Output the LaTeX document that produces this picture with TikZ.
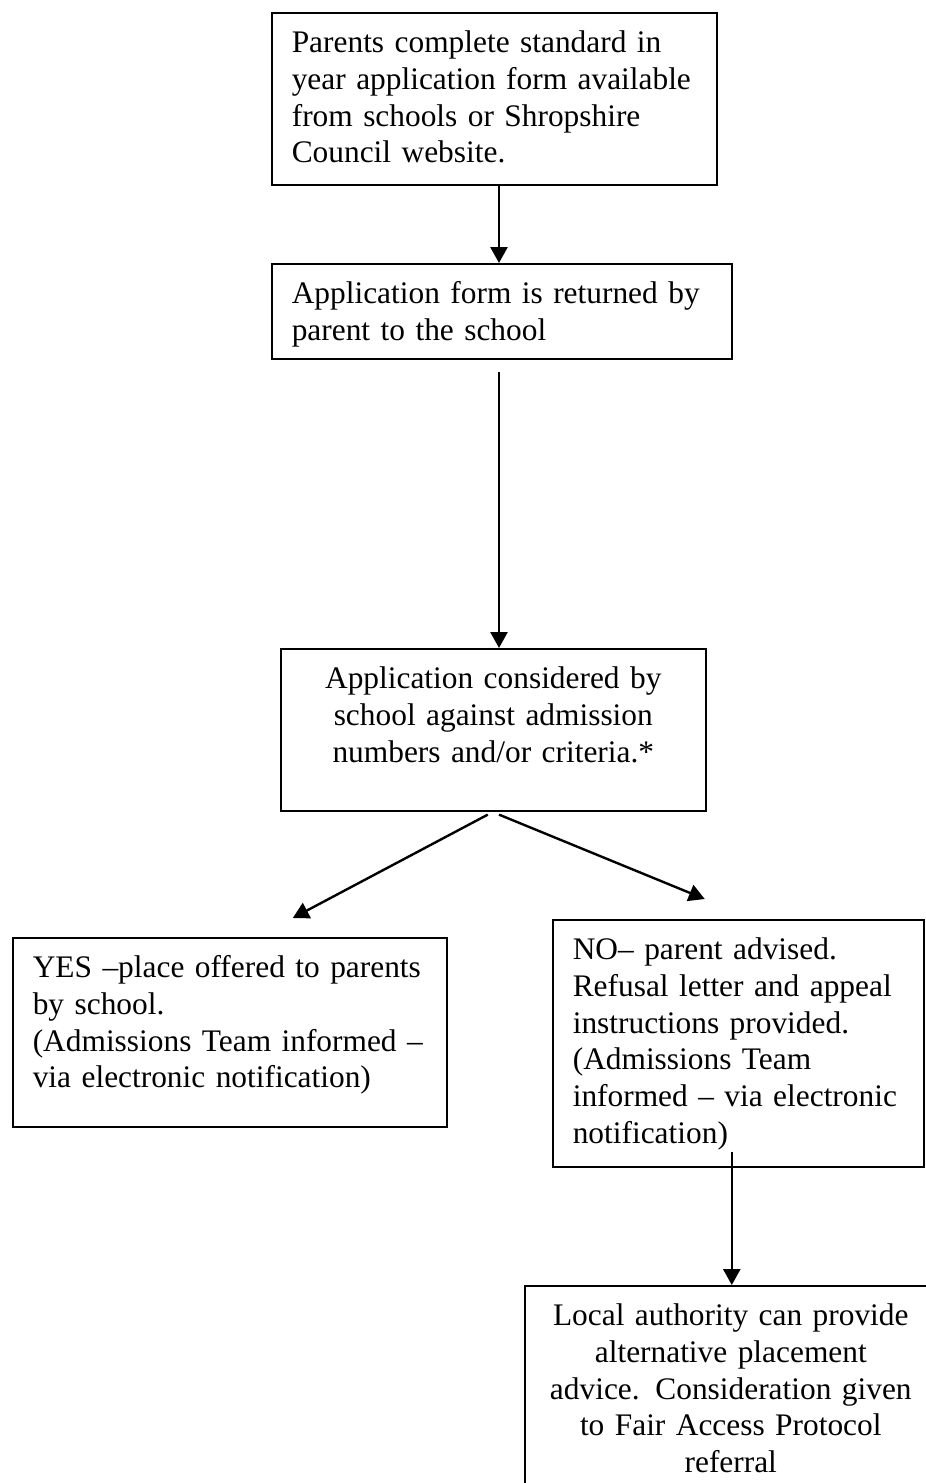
\documentclass[tikz,border=0pt]{standalone}
\usepackage{fontspec}
\setmainfont{Liberation Serif}
\usetikzlibrary{arrows.meta, calc}
\newdimen\px
\px=0.376pt

\begin{document}
\begin{tikzpicture}[
    x=\px, y=-\px,
    box/.style={rectangle, draw=black, line width=0.6pt, anchor=north west,
                inner xsep=20\px, inner ysep=0pt, text height=40\px,
                align=left, font=\fontsize{11.8pt}{13.8pt}\selectfont},
    arr/.style={-{Triangle[length=6pt, width=6.4pt]}, line width=0.9pt}
  ]
    \useasboundingbox (0,0) rectangle (926,1483);
    \coordinate (spine) at (499,0);
    \node[box, text width=405\px, text depth=132\px] (form) at (271,12)
      {Parents complete standard in\\ year application form available\\ from schools or Shropshire\\ Council website.};
    \node[box, text width=420\px, text depth=55\px] (returned) at (271,263)
      {Application form is returned by\\ parent to the school};
    \node[box, text width=385\px, text depth=122\px, align=center] (consider) at (280,648)
      {Application considered by\\ school against admission\\ numbers and/or criteria.*};
    \node[box, text width=394\px, text depth=149\px] (yes) at (12,937)
      {YES –place offered to parents\\ by school.\\ (Admissions Team informed –\\ via electronic notification)};
    \node[box, text width=331\px, text depth=207\px] (no) at (552,919)
      {NO– parent advised.\\ Refusal letter and appeal\\ instructions provided.\\ (Admissions Team\\ informed – via electronic\\ notification)};
    \node[box, text width=372\px, text depth=200\px, align=center] (advice) at (524,1285)
      {Local authority can provide\\ alternative placement\\ advice. Consideration given\\ to Fair Access Protocol\\ referral};
    \draw[arr] (form.south -| spine) -- (returned.north -| spine);
    \draw[arr] ($(returned.south -| spine)+(0,12)$) -- (consider.north -| spine);
    \draw[arr] ($(consider.south)+(-5.5,3)$) -- ($(yes.north)+(63,-19)$);
    \draw[arr] ($(consider.south -| spine)+(0,3)$) -- ($(no.north)+(-33.5,-20)$);
    \draw[arr] ($(no.south)+(-6.5,-16)$) -- ($(advice.north)+(1,0)$);
  \end{tikzpicture}
\end{document}
